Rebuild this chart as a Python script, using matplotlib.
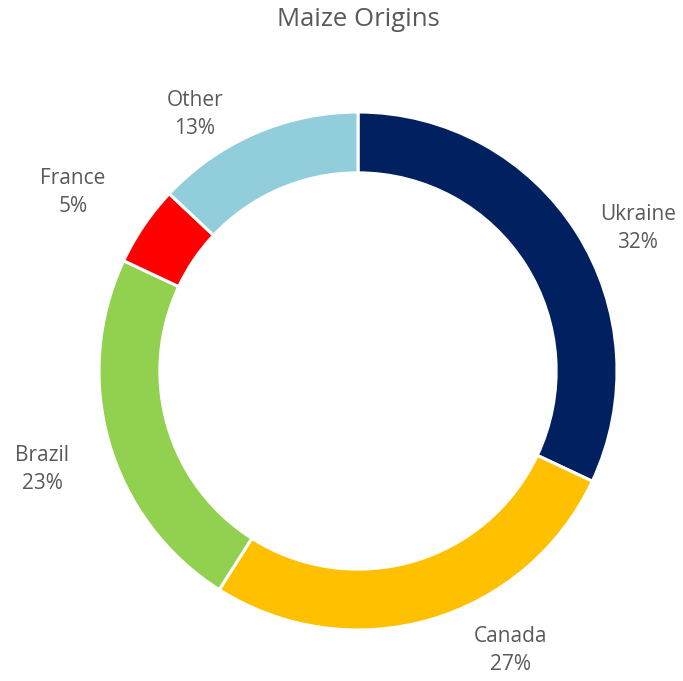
import matplotlib
matplotlib.use("Agg")
import matplotlib.pyplot as plt

origins = ["Ukraine", "Canada", "Brazil", "France", "Other"]
shares = [32, 27, 23, 5, 13]
colors = ["#002060", "#FFC000", "#92D050", "#FF0000", "#92CDDC"]
# label anchor points (in units of the outer radius), as placed in the original
label_pos = {
    "Ukraine": (1.08, 0.55),
    "Canada": (0.59, -1.08),
    "Brazil": (-1.22, -0.38),
    "France": (-1.10, 0.69),
    "Other": (-0.63, 0.99),
}

W, H = 683, 681
cx, cy, R = 358, 371, 259
fig = plt.figure(figsize=(W / 100, H / 100), dpi=100)
ax = fig.add_axes([(cx - R) / W, (H - cy - R) / H, 2 * R / W, 2 * R / H])

ax.pie(shares, colors=colors, startangle=90, counterclock=False, radius=1.0,
       wedgeprops=dict(width=0.235, edgecolor="white", linewidth=2.2))
ax.set_xlim(-1, 1)
ax.set_ylim(-1, 1)
ax.set_aspect("equal")
ax.axis("off")

font = "Open Sans"
for name, val in zip(origins, shares):
    x, y = label_pos[name]
    ax.text(x, y, f"{name}\n{val}%", ha="center", va="center", fontsize=15,
            color="#595959", family=font, linespacing=1.45, clip_on=False)

fig.text(cx / W, 1 - 19 / H, "Maize Origins", ha="center", va="center",
         fontsize=18.5, color="#595959", family=font)

fig.savefig("out.png", dpi=100)
